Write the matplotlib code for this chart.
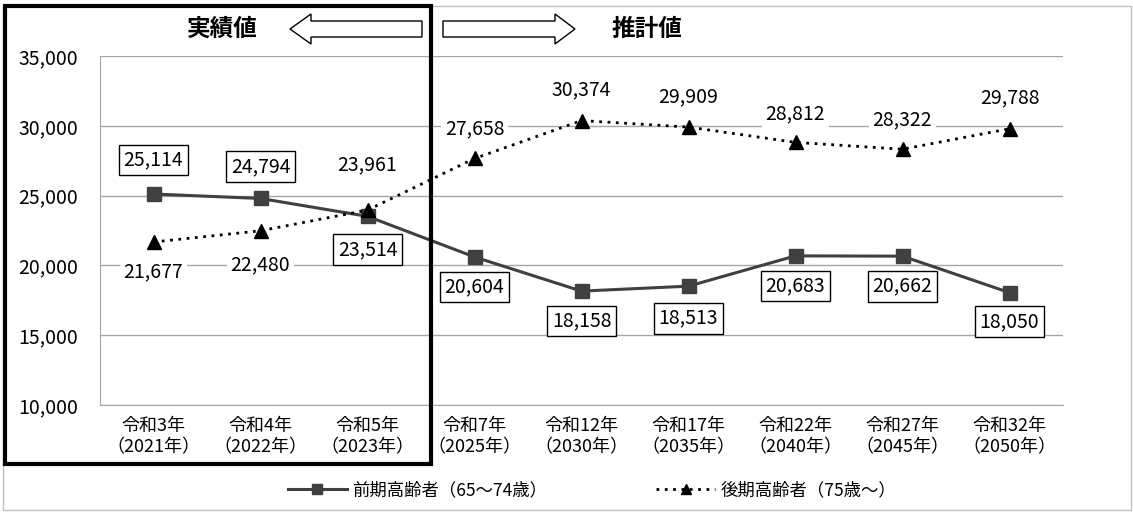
import matplotlib
matplotlib.use('Agg')
import matplotlib.pyplot as plt
from matplotlib.patches import Rectangle, Polygon
from matplotlib.lines import Line2D

plt.rcParams['font.family'] = ['Noto Sans CJK JP', 'DejaVu Sans']

#### DATA ####
wareki = ['令和3年', '令和4年', '令和5年', '令和7年', '令和12年',
          '令和17年', '令和22年', '令和27年', '令和32年']
seireki = ['2021', '2022', '2023', '2025', '2030', '2035', '2040', '2045', '2050']
zenki = [25114, 24794, 23514, 20604, 18158, 18513, 20683, 20662, 18050]
kouki = [21677, 22480, 23961, 27658, 30374, 29909, 28812, 28322, 29788]
yticks = [10000, 15000, 20000, 25000, 30000, 35000]

# label offsets (pixels) for each point: + above, - below
zenki_off = [34, 32, -33, -30, -30, -32, -30, -30, -29]
kouki_off = [-30, -34, 45, 30, 31, 30, 29, 29, 31]

W, H = 1133, 512
fig = plt.figure(figsize=(W/100, H/100), dpi=100)

def fx(x):
    return x / W

def fy(y):
    return 1 - y / H

ax = fig.add_axes([fx(100), fy(405), fx(1063) - fx(100), fy(56) - fy(405)])

x = list(range(len(wareki)))
ax.plot(x, zenki, color='#404040', lw=2.2, marker='s', ms=10,
        mfc='#404040', mec='#404040', zorder=4)
ax.plot(x, kouki, color='black', lw=2, ls=(0, (1, 2)), marker='^', ms=10,
        mfc='black', mec='black', zorder=4)

for i in x:
    ax.annotate(f'{zenki[i]:,}', (i, zenki[i]), xytext=(0, zenki_off[i]),
                textcoords='offset pixels', ha='center', va='center', fontsize=14,
                bbox=dict(boxstyle='square,pad=0.25', fc='white', ec='black', lw=1),
                zorder=6)
    ax.annotate(f'{kouki[i]:,}', (i, kouki[i]), xytext=(0, kouki_off[i]),
                textcoords='offset pixels', ha='center', va='center', fontsize=14,
                bbox=dict(boxstyle='square,pad=0.2', fc='white', ec='none'),
                zorder=6)

ax.set_xlim(-0.5, len(x) - 0.5)
ax.set_ylim(10000, 35000)
ax.set_yticks(yticks)
ax.set_yticklabels([f'{v:,}' for v in yticks], fontsize=14)
ax.set_xticks(x)
ax.set_xticklabels([f'{w}\n（{s}年）' for w, s in zip(wareki, seireki)],
                   fontsize=13, linespacing=1.2)
ax.tick_params(axis='both', length=0)
ax.tick_params(axis='y', pad=16)
ax.tick_params(axis='x', pad=9)
ax.grid(axis='y', color='#a6a6a6', lw=1)
ax.set_axisbelow(True)
for s in ['top', 'right']:
    ax.spines[s].set_visible(False)
for s in ['left', 'bottom']:
    ax.spines[s].set_color('#a6a6a6')

# outer frame
fig.patches.append(Rectangle((fx(3), fy(510)), fx(1131) - fx(3), fy(6) - fy(510),
                             transform=fig.transFigure, fill=False,
                             ec='#bfbfbf', lw=1))
# actual-values box
fig.patches.append(Rectangle((fx(5), fy(464)), fx(431) - fx(5), fy(6) - fy(464),
                             transform=fig.transFigure, fill=False,
                             ec='black', lw=3, zorder=10))

# open arrows
left_arrow = [(290, 29), (311, 14), (311, 21), (422, 21), (422, 37), (311, 37), (311, 44)]
right_arrow = [(575, 29), (555, 14), (555, 21), (443, 21), (443, 37), (555, 37), (555, 44)]
for pts in [left_arrow, right_arrow]:
    fig.patches.append(Polygon([(fx(a), fy(b)) for a, b in pts], closed=True,
                               transform=fig.transFigure, fc='white', ec='black', lw=1))

fig.text(fx(222), fy(29), '実績値', ha='center', va='center', fontsize=17, fontweight='bold')
fig.text(fx(647), fy(29), '推計値', ha='center', va='center', fontsize=17, fontweight='bold')

handles = [Line2D([], [], color='#404040', lw=2.2, marker='s', ms=7, mfc='#404040', mec='#404040'),
           Line2D([], [], color='black', lw=2, ls=(0, (1, 2)), marker='^', ms=7, mfc='black')]
fig.legend(handles, ['前期高齢者（65～74歳）', '後期高齢者（75歳～）'], loc='center',
           bbox_to_anchor=(fx(592), fy(490)), ncol=2, frameon=False, fontsize=12.5,
           handlelength=3.4, columnspacing=6.3, handletextpad=0.3)

fig.savefig('out.png', dpi=100)
